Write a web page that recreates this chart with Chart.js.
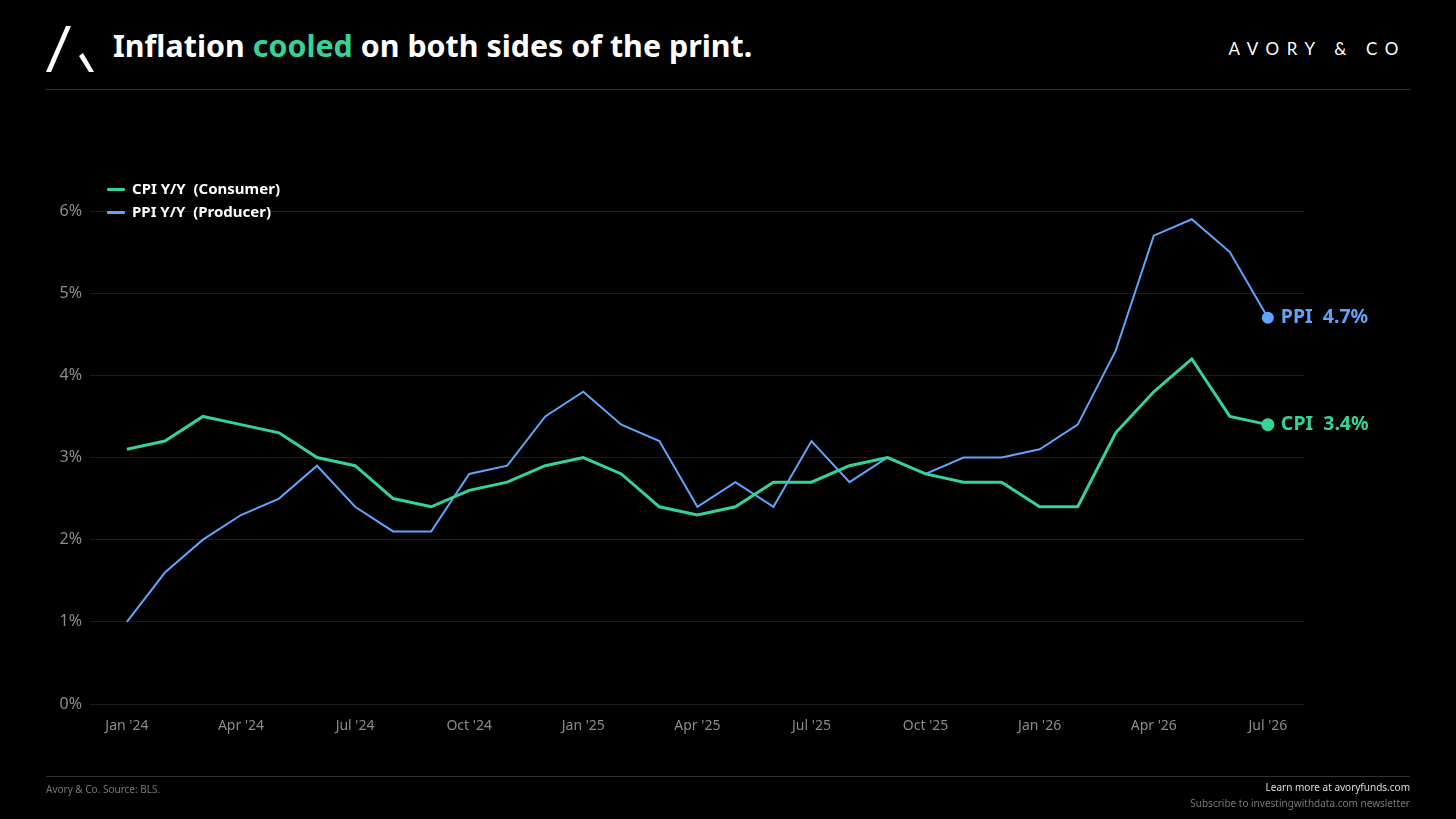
<!DOCTYPE html>
<html>
<head>
<meta charset="utf-8">
<script src="https://cdn.jsdelivr.net/npm/chart.js@4.4.1/dist/chart.umd.min.js"></script>
<style>
  html, body { margin: 0; padding: 0; background: #000; }
  body { width: 1456px; height: 819px; position: relative; overflow: hidden; font-family: "Noto Sans", sans-serif; }
  #logo { position: absolute; left: 44px; top: 24px; }
  #title { position: absolute; left: 113px; top: 25px; font-size: 30.4px; font-weight: 700; color: #fff; white-space: nowrap; }
  #title span { color: #34d399; }
  #brand { position: absolute; right: 50px; top: 38px; font-family: Lato, sans-serif; font-weight: 400; font-size: 17px; letter-spacing: 0.45em; color: #fff; }
  .rule { position: absolute; left: 46px; width: 1364px; height: 1px; background: #333; }
  #legend { position: absolute; left: 107px; top: 177px; color: #fff; font-size: 15px; font-weight: 700; }
  #legend div { height: 23px; line-height: 22px; white-space: pre; }
  #legend i { display: inline-block; width: 18px; height: 3px; vertical-align: middle; margin-right: 7px; border-radius: 1px; }
  #chartBox { position: absolute; left: 0; top: 0; width: 1456px; height: 819px; }
  #srcNote { position: absolute; left: 46px; top: 782px; font-size: 10px; color: #777; }
  #footRight { position: absolute; right: 46px; top: 779px; font-size: 10px; text-align: right; line-height: 16px; }
</style>
</head>
<body>
<svg id="logo" width="54" height="52" viewBox="0 0 54 52">
  <polygon points="22,2 27,2 7,48 2,48" fill="#fff"/>
  <polygon points="35,32 39,29 50,48 45,48" fill="#fff"/>
</svg>
<div id="title">Inflation <span>cooled</span> on both sides of the print.</div>
<div id="brand">AVORY &amp; CO</div>
<div class="rule" style="top:89px"></div>

<div id="chartBox"><canvas id="inflationChart"></canvas></div>

<div id="legend">
  <div><i style="background:#34d399"></i>CPI Y/Y  (Consumer)</div>
  <div><i style="background:#60a5fa"></i>PPI Y/Y  (Producer)</div>
</div>

<div class="rule" style="top:776px"></div>
<div id="srcNote">Avory &amp; Co. Source: BLS.</div>
<div id="footRight">
  <div style="color:#ddd">Learn more at avoryfunds.com</div>
  <div style="color:#777">Subscribe to investingwithdata.com newsletter</div>
</div>

<script>
// monthly series, Jan '24 .. Jul '26
const months = ['Jan \'24','Feb \'24','Mar \'24','Apr \'24','May \'24','Jun \'24','Jul \'24','Aug \'24','Sep \'24','Oct \'24','Nov \'24','Dec \'24',
  'Jan \'25','Feb \'25','Mar \'25','Apr \'25','May \'25','Jun \'25','Jul \'25','Aug \'25','Sep \'25','Oct \'25','Nov \'25','Dec \'25',
  'Jan \'26','Feb \'26','Mar \'26','Apr \'26','May \'26','Jun \'26','Jul \'26'];
const cpiValues = [3.1, 3.2, 3.5, 3.4, 3.3, 3.0, 2.9, 2.5, 2.4, 2.6, 2.7, 2.9,
  3.0, 2.8, 2.4, 2.3, 2.4, 2.7, 2.7, 2.9, 3.0, 2.8, 2.7, 2.7,
  2.4, 2.4, 3.3, 3.8, 4.2, 3.5, 3.4];
const ppiValues = [1.0, 1.6, 2.0, 2.3, 2.5, 2.9, 2.4, 2.1, 2.1, 2.8, 2.9, 3.5,
  3.8, 3.4, 3.2, 2.4, 2.7, 2.4, 3.2, 2.7, 3.0, 2.8, 3.0, 3.0,
  3.1, 3.4, 4.3, 5.7, 5.9, 5.5, 4.7];
const tickMonths = [0, 3, 6, 9, 12, 15, 18, 21, 24, 27, 30];
const yTicks = [0, 1, 2, 3, 4, 5, 6];

const green = '#34d399';
const blue = '#60a5fa';

function toPoints(values) {
  return values.map((v, i) => ({ x: i, y: v }));
}

// draws "CPI  3.4%" next to the last point of each line
const endLabels = {
  id: 'endLabels',
  afterDatasetsDraw(chart) {
    const ctx = chart.ctx;
    chart.data.datasets.forEach((ds, i) => {
      const meta = chart.getDatasetMeta(i);
      const pt = meta.data[meta.data.length - 1];
      const last = ds.data[ds.data.length - 1].y;
      ctx.save();
      ctx.font = '700 19.5px "Noto Sans"';
      ctx.fillStyle = ds.borderColor;
      ctx.textBaseline = 'middle';
      ctx.fillText(ds.shortName + '  ' + last.toFixed(1) + '%', pt.x + 13, pt.y);
      ctx.restore();
    });
  }
};

const lastIdx = months.length - 1;

new Chart(document.getElementById('inflationChart'), {
  type: 'line',
  data: {
    datasets: [{
      label: 'CPI Y/Y (Consumer)',
      shortName: 'CPI',
      data: toPoints(cpiValues),
      borderColor: green,
      backgroundColor: green,
      borderWidth: 3,
      pointRadius: (c) => c.dataIndex === lastIdx ? 5 : 0,
      tension: 0
    }, {
      label: 'PPI Y/Y (Producer)',
      shortName: 'PPI',
      data: toPoints(ppiValues),
      borderColor: blue,
      backgroundColor: blue,
      borderWidth: 2,
      pointRadius: (c) => c.dataIndex === lastIdx ? 5 : 0,
      tension: 0
    }]
  },
  options: {
    responsive: true,
    maintainAspectRatio: false,
    animation: false,
    layout: { padding: { top: 211, right: 152, bottom: 75, left: 0 } },
    plugins: { legend: { display: false }, tooltip: { enabled: false } },
    scales: {
      x: {
        type: 'linear',
        min: -0.97,
        max: 30.95,
        afterBuildTicks: (scale) => { scale.ticks = tickMonths.map(v => ({ value: v })); },
        afterFit: (scale) => { scale.height = 40; },
        grid: { display: false },
        border: { display: false },
        ticks: {
          autoSkip: false,
          maxRotation: 0,
          padding: 6,
          color: '#8c8c8c',
          font: { family: 'Noto Sans', size: 14 },
          callback: (v) => months[v]
        }
      },
      y: {
        min: 0,
        max: 6,
        afterBuildTicks: (scale) => { scale.ticks = yTicks.map(v => ({ value: v })); },
        afterFit: (scale) => { scale.width = 90; },
        grid: { color: '#1c1c1c', lineWidth: 1, drawTicks: false },
        border: { display: false },
        ticks: {
          padding: 8,
          color: '#8c8c8c',
          font: { family: 'Noto Sans', size: 16 },
          callback: (v) => v + '%'
        }
      }
    }
  },
  plugins: [endLabels]
});
</script>
</body>
</html>
